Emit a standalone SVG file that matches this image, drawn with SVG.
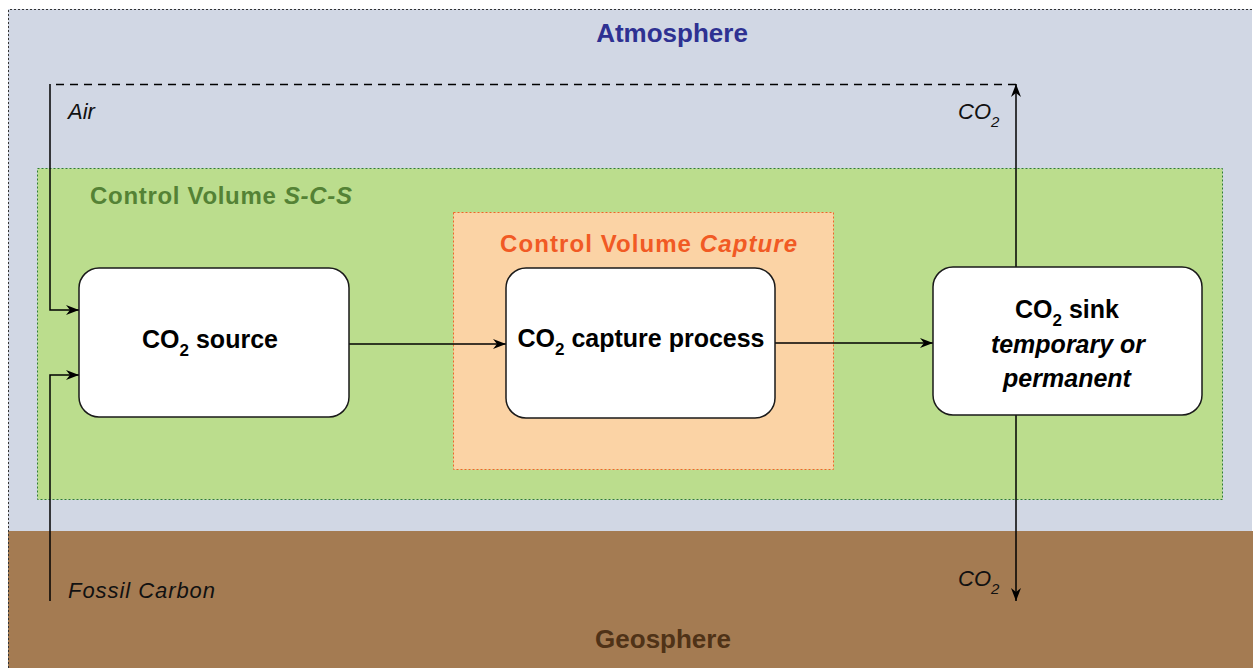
<svg xmlns="http://www.w3.org/2000/svg" width="1253" height="668" viewBox="0 0 1253 668">
<style>
.bold{font-family:"Liberation Sans",Arial,sans-serif;font-weight:bold}
.node{fill:#ffffff;stroke:#1a1a1a;stroke-width:1.5}
.ntext{font-family:"Liberation Sans",Arial,sans-serif;font-weight:bold;font-size:25px;fill:#000;text-anchor:middle}
.conn{stroke:#000;stroke-width:1.5;fill:none}
.lbl{font-family:"Liberation Sans",Arial,sans-serif;font-style:italic;font-size:22px;fill:#111}
</style>
<defs>
<marker id="ah" viewBox="0 0 13 10" refX="13" refY="5" markerWidth="13" markerHeight="10" markerUnits="userSpaceOnUse" orient="auto">
<path d="M0,0 L13,5 L0,10 L4,5 Z" fill="#000"/>
</marker>
</defs>
<rect x="0" y="0" width="1253" height="668" fill="#ffffff"/>
<g id="atmosphere">
<rect x="8" y="9" width="1244" height="522" fill="#d1d7e4"/>
<text class="bold" x="672" y="42" font-size="26" fill="#2e3192" text-anchor="middle">Atmosphere</text>
</g>
<g id="geosphere">
<rect x="8" y="531" width="1245" height="137" fill="#a47b52"/>
<text class="bold" x="663" y="648" font-size="26" fill="#4f3217" text-anchor="middle">Geosphere</text>
</g>
<path d="M8.5,668 L8.5,9.5 L1252,9.5" fill="none" stroke="#333" stroke-width="1" stroke-dasharray="2,2"/>
<g id="cv-scs">
<rect x="37.5" y="168.5" width="1185" height="331" fill="#bbdd8d" stroke="#2e7d32" stroke-width="1" stroke-dasharray="2,2"/>
<text class="bold" x="90" y="204" font-size="24" fill="#548235" textLength="262" lengthAdjust="spacing">Control Volume <tspan font-style="italic">S-C-S</tspan></text>
</g>
<g id="cv-capture">
<rect x="453.5" y="212.5" width="380" height="257" fill="#fbd3a5" stroke="#f0642a" stroke-width="1" stroke-dasharray="2,2"/>
<text class="bold" x="500" y="252" font-size="24" fill="#f15a24" textLength="297" lengthAdjust="spacing">Control Volume <tspan font-style="italic">Capture</tspan></text>
</g>
<g id="connectors">
<path class="conn" d="M1016,84.5 L50,84.5" stroke-dasharray="8,6"/>
<path class="conn" d="M50,84 L50,310 L79,310" marker-end="url(#ah)"/>
<path class="conn" d="M50,601 L50,375 L79,375" marker-end="url(#ah)"/>
<path class="conn" d="M349,344 L506,344" marker-end="url(#ah)"/>
<path class="conn" d="M775,343 L933,343" marker-end="url(#ah)"/>
<path class="conn" d="M1016,267 L1016,84" marker-end="url(#ah)"/>
<path class="conn" d="M1016,415 L1016,601" marker-end="url(#ah)"/>
<text class="lbl" x="68" y="119">Air</text>
<text class="lbl" x="68" y="598" textLength="147" lengthAdjust="spacing">Fossil Carbon</text>
<text class="lbl" x="958" y="119">CO<tspan font-size="15" dy="8">2</tspan></text>
<text class="lbl" x="958" y="586">CO<tspan font-size="15" dy="8">2</tspan></text>
</g>
<g id="co2-source">
<rect class="node" x="79" y="268" width="270" height="149" rx="20"/>
<text class="ntext" x="210" y="348">CO<tspan font-size="17" dy="8">2</tspan><tspan dy="-8"> source</tspan></text>
</g>
<g id="co2-capture">
<rect class="node" x="506" y="268" width="269" height="150" rx="20"/>
<text class="ntext" x="641" y="347">CO<tspan font-size="17" dy="8">2</tspan><tspan dy="-8"> capture process</tspan></text>
</g>
<g id="co2-sink">
<rect class="node" x="933" y="267" width="269" height="148" rx="20"/>
<text class="ntext" x="1067" y="318">CO<tspan font-size="17" dy="8">2</tspan><tspan dy="-8"> sink</tspan></text>
<text class="ntext" x="1068" y="353" font-style="italic">temporary or</text>
<text class="ntext" x="1067" y="387" font-style="italic">permanent</text>
</g>
</svg>
